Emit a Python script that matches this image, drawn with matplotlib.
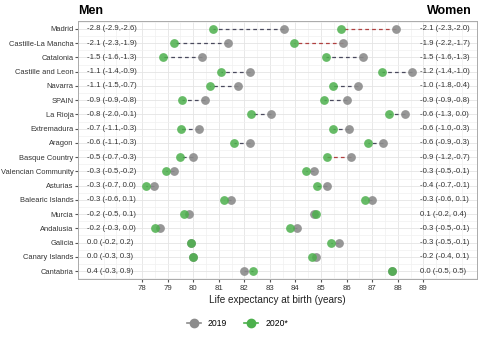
import matplotlib
matplotlib.use('Agg')
import matplotlib.pyplot as plt
from matplotlib.lines import Line2D
import numpy as np

plt.rcParams['font.family'] = ['Liberation Sans', 'DejaVu Sans']

regions = ['Madrid', 'Castille-La Mancha', 'Catalonia', 'Castille and Leon', 'Navarra',
           'SPAIN', 'La Rioja', 'Extremadura', 'Aragon', 'Basque Country',
           'Valencian Community', 'Asturias', 'Balearic Islands', 'Murcia',
           'Andalusia', 'Galicia', 'Canary Islands', 'Cantabria']

men_2019 = [83.56, 81.35, 80.34, 82.23, 81.77, 80.45, 83.04, 80.22, 82.23, 79.98,
            79.25, 78.48, 81.47, 79.85, 78.70, 79.93, 80.00, 81.97]
men_2020 = [80.79, 79.25, 78.83, 81.09, 80.67, 79.57, 82.25, 79.51, 81.60, 79.50,
            78.93, 78.14, 81.21, 79.64, 78.51, 79.93, 80.00, 82.33]
women_2019 = [87.91, 85.85, 86.65, 88.55, 86.45, 86.01, 88.29, 86.08, 87.42, 86.19,
              84.74, 85.24, 87.00, 84.71, 84.07, 85.70, 84.81, 87.76]
women_2020 = [85.78, 83.93, 85.19, 87.39, 85.48, 85.12, 87.67, 85.48, 86.85, 85.25,
              84.43, 84.86, 86.70, 84.79, 83.78, 85.37, 84.65, 87.76]

men_labels = ['-2.8 (-2.9,-2.6)', '-2.1 (-2.3,-1.9)', '-1.5 (-1.6,-1.3)', '-1.1 (-1.4,-0.9)',
              '-1.1 (-1.5,-0.7)', '-0.9 (-0.9,-0.8)', '-0.8 (-2.0,-0.1)', '-0.7 (-1.1,-0.3)',
              '-0.6 (-1.1,-0.3)', '-0.5 (-0.7,-0.3)', '-0.3 (-0.5,-0.2)', '-0.3 (-0.7, 0.0)',
              '-0.3 (-0.6, 0.1)', '-0.2 (-0.5, 0.1)', '-0.2 (-0.3, 0.0)', '0.0 (-0.2, 0.2)',
              '0.0 (-0.3, 0.3)', '0.4 (-0.3, 0.9)']
women_labels = ['-2.1 (-2.3,-2.0)', '-1.9 (-2.2,-1.7)', '-1.5 (-1.6,-1.3)', '-1.2 (-1.4,-1.0)',
                '-1.0 (-1.8,-0.4)', '-0.9 (-0.9,-0.8)', '-0.6 (-1.3, 0.0)', '-0.6 (-1.0,-0.3)',
                '-0.6 (-0.9,-0.3)', '-0.9 (-1.2,-0.7)', '-0.3 (-0.5,-0.1)', '-0.4 (-0.7,-0.1)',
                '-0.3 (-0.6, 0.1)', '0.1 (-0.2, 0.4)', '-0.3 (-0.5,-0.1)', '-0.3 (-0.5,-0.1)',
                '-0.2 (-0.4, 0.1)', '0.0 (-0.5, 0.5)']

# regions where the female drop is drawn in red
women_red = ['Madrid', 'Castille-La Mancha', 'Basque Country']

grey = '#8c8c8c'
green = '#4cb04c'
men_line = '#4a4a5e'
red_line = '#b04040'
txt = '#333333'
fs = 5.6

fig = plt.figure(figsize=(4.8, 3.41), dpi=100)
ax = fig.add_axes([0.1625, 0.182, 0.8315, 0.756])

y = np.arange(len(regions))

for i, name in enumerate(regions):
    ax.plot([men_2019[i], men_2020[i]], [y[i], y[i]], color=men_line, lw=0.9,
            ls=(0, (3, 2.5)), zorder=2)
    wc = red_line if name in women_red else men_line
    ax.plot([women_2019[i], women_2020[i]], [y[i], y[i]], color=wc, lw=0.9,
            ls=(0, (3, 2.5)), zorder=2)

ax.scatter(men_2019, y, s=40, color=grey, alpha=0.9, lw=0, zorder=3)
ax.scatter(women_2019, y, s=40, color=grey, alpha=0.9, lw=0, zorder=3)
ax.scatter(men_2020, y, s=40, color=green, alpha=0.85, lw=0, zorder=4)
ax.scatter(women_2020, y, s=40, color=green, alpha=0.85, lw=0, zorder=4)

for i in range(len(regions)):
    ax.text(75.85, y[i], men_labels[i], ha='left', va='center', fontsize=fs, color=txt)
    ax.text(88.88, y[i], women_labels[i], ha='left', va='center', fontsize=fs, color=txt)

ax.set_xlim(75.5, 91.1)
ax.set_ylim(len(regions) - 0.45, -0.55)
ax.set_xticks(range(78, 90))
ax.set_xticks(np.arange(76.5, 91, 0.5), minor=True)
ax.set_yticks(y)
ax.set_yticks(np.arange(-0.5, len(regions), 1), minor=True)
ax.set_yticklabels(regions, fontsize=5.4, color=txt)
ax.tick_params(axis='x', labelsize=fs, labelcolor=txt, length=2.5, color='#555555', pad=2)
ax.tick_params(axis='y', length=2.2, color='#555555', pad=1)
ax.tick_params(which='minor', length=0)
ax.grid(which='major', color='#e4e4e4', lw=0.6)
ax.grid(which='minor', color='#f0f0f0', lw=0.5)
ax.set_axisbelow(True)
for s in ax.spines.values():
    s.set_color('#aaaaaa')
    s.set_linewidth(0.7)

ax.set_xlabel('Life expectancy at birth (years)', fontsize=7.2, color='#222222', labelpad=2)

fig.text(0.163, 0.967, 'Men', fontsize=9, fontweight='bold', ha='left', va='center')
fig.text(0.983, 0.967, 'Women', fontsize=9, fontweight='bold', ha='right', va='center')

handles = [Line2D([0], [0], color=grey, marker='o', markersize=6, lw=1.2),
           Line2D([0], [0], color=green, marker='o', markersize=6, lw=1.2)]
fig.legend(handles, ['2019', '2020*'], loc='center', bbox_to_anchor=(0.495, 0.05), ncol=2,
           frameon=False, fontsize=6.2, handlelength=1.6, columnspacing=2.0)

fig.savefig('out.png', dpi=100)
